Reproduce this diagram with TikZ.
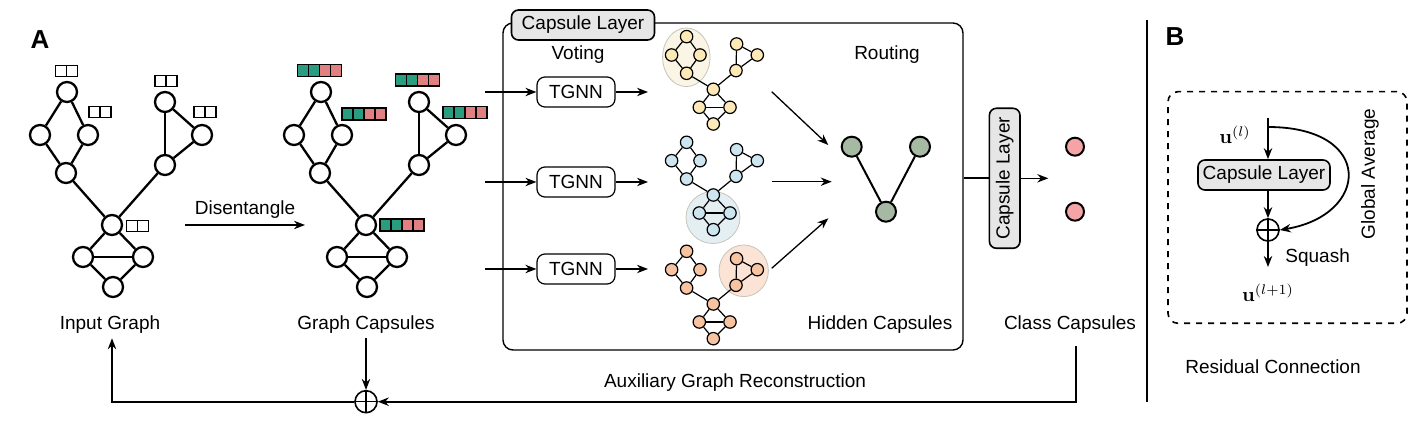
\documentclass[tikz,border=0pt]{standalone}
\usepackage[no-math]{fontspec}
\setmainfont{Liberation Sans}
\usepackage{amsmath}
\usetikzlibrary{arrows.meta,positioning}
\definecolor{featteal}{RGB}{42,157,128}
\definecolor{featpink}{RGB}{224,128,128}
\definecolor{boxgray}{RGB}{230,230,230}
\definecolor{nodeyellow}{RGB}{252,233,181}
\definecolor{haloyellow}{RGB}{250,245,228}
\definecolor{nodeblue}{RGB}{204,229,239}
\definecolor{haloblue}{RGB}{228,239,243}
\definecolor{nodeorange}{RGB}{248,195,160}
\definecolor{haloorange}{RGB}{251,227,213}
\definecolor{hiddengreen}{RGB}{166,186,163}
\definecolor{classpink}{RGB}{244,164,166}
\definecolor{halostroke}{RGB}{200,196,186}

\tikzset{
	bignode/.style={circle,draw,line width=1.15pt,fill=white,minimum size=10pt,inner sep=0pt},
	bigedge/.style={line width=1.15pt},
	smallnode/.style={circle,draw,line width=0.6pt,minimum size=6.2pt,inner sep=0pt},
	smalledge/.style={line width=0.6pt},
	capnode/.style={circle,draw,line width=1pt,minimum size=10pt,inner sep=0pt},
	featline/.style={line width=0.6pt},
	tgnnbox/.style={draw,rounded corners=4pt,line width=0.6pt,minimum width=39pt,minimum height=15pt,inner sep=0pt},
	layerbox/.style={draw,rounded corners=3.5pt,fill=boxgray,line width=0.8pt,inner sep=0pt},
	flow/.style={-{Stealth[length=5.5pt,width=4.2pt]},line width=0.65pt},
	thickflow/.style={-{Stealth[length=5.5pt,width=4.2pt]},line width=0.9pt},
	lbl/.style={font=\fontsize{9.5}{11}\selectfont,inner sep=2pt},
	panel/.style={font=\fontsize{13}{15}\selectfont\bfseries}
}

% graph of eleven nodes, name prefix and centre
\newcommand{\biggraph}[3]{%
	\foreach \n/\dx/\dy in {a/-45/-133,b/-72/-90,c/-24/-90,d/-46/-52,e/53/-123,f/90/-90,g/53/-60,h/0/0,i/-29/32,j/31/32,k/1/62}
		\node[bignode] (#1\n) at ({#2+(\dx)},{#3+(\dy)}) {};
	\foreach \u/\v in {a/b,a/c,b/d,c/d,d/h,e/f,e/g,f/g,g/h,h/i,h/j,i/j,i/k,j/k}
		\draw[bigedge] (#1\u) -- (#1\v);
}
\newcommand{\smallgraph}[4]{%
	\foreach \n/\dx/\dy in {a/-26.7/-52.7,b/-41.7/-34.3,c/-13.3/-34.3,d/-26.7/-16,e/23.3/-45.3,f/44/-34.3,g/22.7/-18.7,h/0/0,i/-14/18,j/16.7/18,k/0/34.7}
		\node[smallnode,fill=#4] (#1\n) at ({#2+(\dx)},{#3+(\dy)}) {};
	\foreach \u/\v in {a/b,a/c,b/d,c/d,d/h,e/f,e/g,f/g,g/h,h/i,h/j,i/j,i/k,j/k}
		\draw[smalledge] (#1\u) -- (#1\v);
}
% feature vectors
\newcommand{\emptyfeat}[2]{%
	\draw[featline,fill=white] ({#1-11},{#2-5.5}) rectangle ++(11,11) ({#1},{#2-5.5}) rectangle ++(11,11);
}
\newcommand{\colorfeat}[2]{%
	\foreach \m/\c in {0/featteal,1/featteal,2/featpink,3/featpink}
		\draw[featline,fill=\c] ({#1-22+11*\m},{#2-6}) rectangle ++(11,12);
}

\begin{document}
\begin{tikzpicture}[x=0.5pt,y=-0.5pt]
	\useasboundingbox (0,0) rectangle (1421,432);

	%panel A
	\node[panel] (panelA) at (40,40) {A};

	%input graph
	\biggraph{ig}{112}{225}
	\emptyfeat{66.7}{71}
	\emptyfeat{100}{112}
	\emptyfeat{166}{81}
	\emptyfeat{205}{112}
	\emptyfeat{137.5}{226}
	\node[lbl] (iglabel) at (110,325) {Input Graph};

	%disentangle
	\coordinate (dstart) at (185,225);
	\coordinate (dend) at (305,225);
	\draw[thickflow] (dstart) -- node[lbl,above=1pt] (dislabel) {Disentangle} (dend);

	%graph capsules
	\biggraph{gc}{366}{225}
	\colorfeat{319.5}{70.5}
	\colorfeat{364}{114}
	\colorfeat{417.5}{80}
	\colorfeat{465}{112.5}
	\colorfeat{402}{225}
	\node[lbl] (gclabel) at (366,325) {Graph Capsules};

	%capsule layer frame
	\node[draw,rounded corners=5pt,line width=0.7pt,minimum width=230pt,minimum height=163.5pt,inner sep=0pt] (capframe) at (733,186.5) {};
	\node[layerbox,minimum width=71.5pt,minimum height=15pt,font=\fontsize{9.5}{11}\selectfont] (captab) at (583,25) {Capsule Layer};
	\node[lbl] (voting) at (578,55) {Voting};
	\node[lbl] (routing) at (887,55) {Routing};

	%voting
	\foreach \k/\y in {1/92,2/182,3/269} {
		\node[tgnnbox,font=\fontsize{9.5}{11}\selectfont] (tgnn\k) at (576,\y) {TGNN};
		\coordinate (vin\k) at (485,\y);
		\coordinate (vout\k) at (648,\y);
		\draw[flow] (vin\k) -- (tgnn\k.west);
		\draw[flow] (tgnn\k.east) -- (vout\k);
	}

	%halos
	\draw[halostroke,line width=0.4pt,fill=haloyellow] (686.3,57.3) circle [x radius=11.85pt, y radius=14.65pt];
	\draw[halostroke,line width=0.4pt,fill=haloblue] (713,217.5) circle [x radius=13.5pt, y radius=13pt];
	\draw[halostroke,line width=0.4pt,fill=haloorange] (743.7,270.8) circle [x radius=12.35pt, y radius=12.9pt];

	%votes
	\smallgraph{vy}{713.3}{89.3}{nodeyellow}
	\smallgraph{vb}{713.3}{195}{nodeblue}
	\smallgraph{vo}{713.3}{304}{nodeorange}

	%routing
	\coordinate (r1s) at (771.7,91.7);
	\coordinate (r1e) at (828.3,145);
	\coordinate (r2s) at (771.7,181.7);
	\coordinate (r2e) at (831.7,181.7);
	\coordinate (r3s) at (771.7,268.3);
	\coordinate (r3e) at (828.3,218.3);
	\draw[flow] (r1s) -- (r1e);
	\draw[flow] (r2s) -- (r2e);
	\draw[flow] (r3s) -- (r3e);

	%hidden capsules
	\node[capnode,fill=hiddengreen] (hl) at (851.7,146.7) {};
	\node[capnode,fill=hiddengreen] (hr) at (920,146.7) {};
	\node[capnode,fill=hiddengreen] (hb) at (886,211.7) {};
	\draw[line width=1pt] (hl) -- (hb) -- (hr);
	\node[lbl] (hidlabel) at (880,325) {Hidden Capsules};

	%second capsule layer
	\node[layerbox,rotate=90,minimum width=70pt,minimum height=15.3pt,font=\fontsize{9.5}{11}\selectfont] (vcap) at (1004.7,178.3) {Capsule Layer};
	\draw[line width=0.8pt] (capframe.east |- vcap.north) -- (vcap.north);
	\coordinate (ccin) at (1048.3,178.3);
	\draw[flow] (vcap.south) -- (ccin);

	%class capsules
	\node[capnode,fill=classpink,minimum size=9pt] (c1) at (1075,146.7) {};
	\node[capnode,fill=classpink,minimum size=9pt] (c2) at (1075,211.7) {};
	\node[lbl] (cclabel) at (1070,325) {Class Capsules};

	%reconstruction
	\node[circle,draw,line width=0.8pt,minimum size=11pt,inner sep=0pt] (plus) at (366,401.7) {};
	\draw[line width=0.6pt] (plus.north) -- (plus.south) (plus.west) -- (plus.east);
	\draw[flow] (gclabel.south) -- (plus.north);
	\draw[thickflow] ([xshift=3pt,yshift=-4pt]cclabel.south) |- (plus.east);
	\draw[thickflow] (plus.west) -| ([xshift=1pt]iglabel.south);
	\node[lbl] (auxlabel) at (735,383) {Auxiliary Graph Reconstruction};

	%panel B
	\draw[line width=1.2pt] (1147,20) -- (1147,402);
	\node[panel] (panelB) at (1175,37) {B};
	\node[draw,dashed,rounded corners=5pt,line width=0.8pt,minimum width=119.5pt,minimum height=115.8pt,inner sep=0pt] (resbox) at (1287.5,207.5) {};
	\node[layerbox,minimum width=66pt,minimum height=15pt,font=\fontsize{9.5}{11}\selectfont] (capb) at (1264,175) {Capsule Layer};
	\coordinate (uin) at (1268,118);
	\coordinate (gstart) at (1268,127);
	\node[circle,draw,line width=0.8pt,minimum size=11pt,inner sep=0pt] (plusb) at (1268,230) {};
	\draw[line width=0.6pt] (plusb.north) -- (plusb.south) (plusb.west) -- (plusb.east);
	\coordinate (uout) at (1268,267);
	\draw[thickflow] (uin) -- (uin |- capb.north);
	\draw[thickflow] (uin |- capb.south) -- (plusb.north);
	\draw[thickflow] (plusb.south) -- (uout);
	\draw[thickflow] (gstart) .. controls (1375,127) and (1370,215) .. (plusb.east);
	\node[font=\fontsize{10}{12}\selectfont] (ul) at (1235,135) {$\mathbf{u}^{(l)}$};
	\node[font=\fontsize{10}{12}\selectfont] (ul1) at (1268,293) {$\mathbf{u}^{(l+1)}$};
	\node[lbl,anchor=west] (squash) at (1281,258) {Squash};
	\node[lbl,rotate=90] (gavg) at (1370,174) {Global Average};
	\node[lbl] (reslabel) at (1273,367) {Residual Connection};
\end{tikzpicture}
\end{document}
